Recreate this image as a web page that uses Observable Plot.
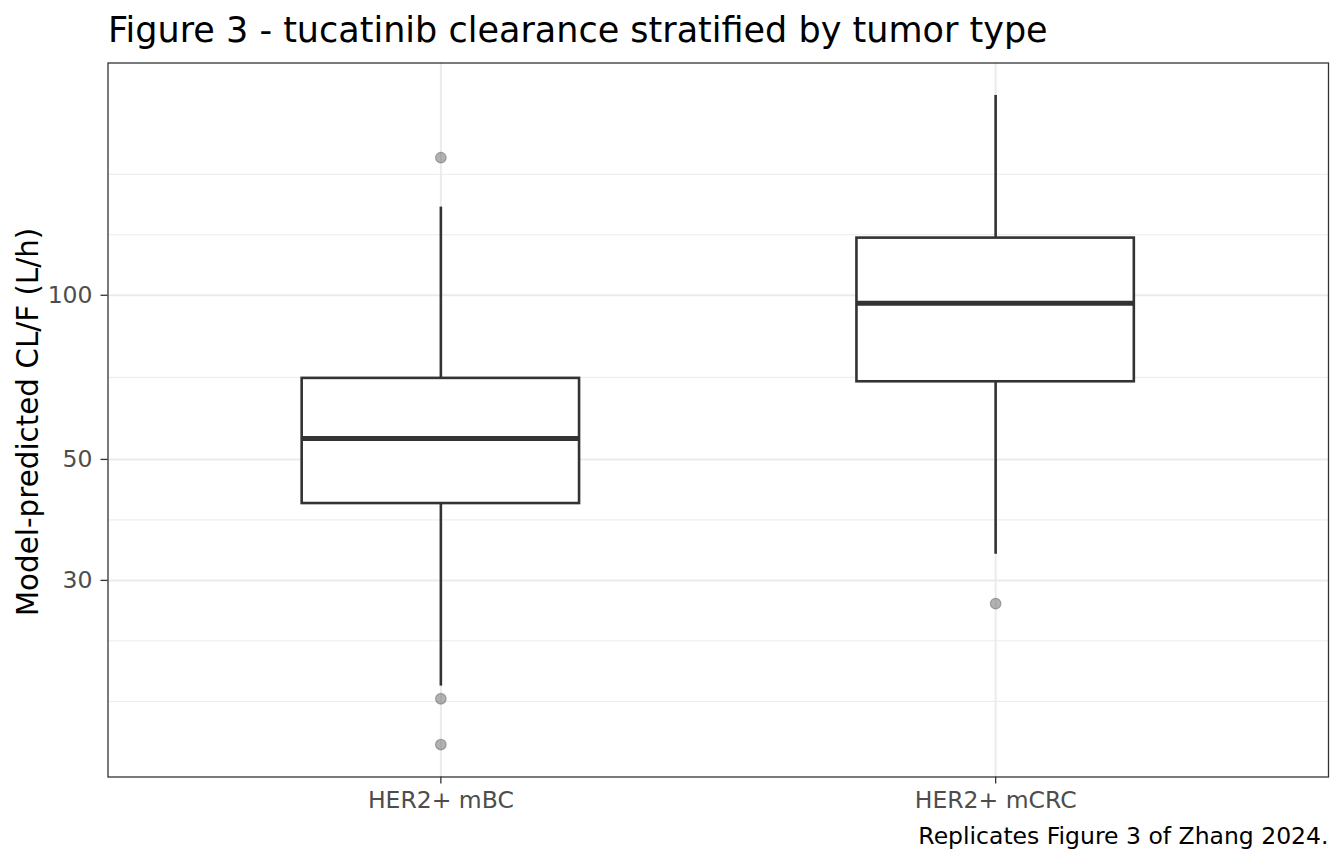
<!DOCTYPE html>
<html>
<head>
<meta charset="utf-8">
<script src="https://cdn.jsdelivr.net/npm/d3@7"></script>
<script src="https://cdn.jsdelivr.net/npm/@observablehq/plot@0.6"></script>
<style>
  html, body { margin: 0; padding: 0; background: #ffffff; }
  #chart { width: 1344px; height: 864px; }
</style>
</head>
<body>
<div id="chart"></div>
<script>
// ---- data ----
const tumorTypes   = ["HER2+ mBC", "HER2+ mCRC"];
const lowerWhisker = [19.2, 33.5];
const q1           = [41.5, 69.4];
const median       = [54.6, 96.7];
const q3           = [70.4, 127.3];
const upperWhisker = [145.1, 232.5];

const outlierType  = ["HER2+ mBC", "HER2+ mBC", "HER2+ mBC", "HER2+ mCRC"];
const outlierValue = [178.8, 18.2, 15.0, 27.2];

const yMajorTicks = [30, 50, 100];
const yMinorTicks = [18, 23.24, 38.73, 70.71, 129.1, 166.67];

const titleText   = "Figure 3 - tucatinib clearance stratified by tumor type";
const yLabelText  = "Model-predicted CL/F (L/h)";
const captionText = "Replicates Figure 3 of Zhang 2024.";

// ---- tables built from the arrays ----
const boxes = tumorTypes.map((t, i) => ({
  type: t, lo: lowerWhisker[i], q1: q1[i], med: median[i], q3: q3[i], hi: upperWhisker[i]
}));
const outliers = outlierType.map((t, i) => ({type: t, value: outlierValue[i]}));

// y domain: data range expanded by 5% in log space (like ggplot)
const allVals = [...lowerWhisker, ...upperWhisker, ...outlierValue];
const lmin = Math.log10(d3.min(allVals)), lmax = Math.log10(d3.max(allVals));
const ex = (lmax - lmin) * 0.05;
const yDomain = [Math.pow(10, lmin - ex), Math.pow(10, lmax + ex)];

const W = 1344, H = 864;
const mL = 107.5, mR = 16, mT = 62.5, mB = 87.5;
const dark = "#333333";

const chart = Plot.plot({
  width: W,
  height: H,
  marginLeft: mL,
  marginRight: mR,
  marginTop: mT,
  marginBottom: mB,
  style: {fontFamily: "DejaVu Sans", fontSize: "23.5px", background: "#ffffff", color: "#000"},
  x: {type: "band", domain: tumorTypes, paddingInner: 0.5, paddingOuter: 0.35, align: 0.5, round: false, label: null},
  y: {type: "log", domain: yDomain, label: null},
  marks: [
    // minor grid
    Plot.gridY(yMinorTicks, {stroke: "#ebebeb", strokeOpacity: 1, strokeWidth: 1}),
    // major grid
    Plot.gridY(yMajorTicks, {stroke: "#ebebeb", strokeOpacity: 1, strokeWidth: 2}),
    Plot.gridX(tumorTypes, {stroke: "#ebebeb", strokeOpacity: 1, strokeWidth: 2}),
    // outliers
    Plot.dot(outliers, {x: "type", y: "value", r: 5.3, fill: "#666666", fillOpacity: 0.5,
      stroke: "#666666", strokeOpacity: 0.5, strokeWidth: 1.2}),
    // whiskers
    Plot.ruleX(boxes, {x: "type", y1: "q3", y2: "hi", stroke: dark, strokeWidth: 2.6}),
    Plot.ruleX(boxes, {x: "type", y1: "lo", y2: "q1", stroke: dark, strokeWidth: 2.6}),
    // boxes
    Plot.barY(boxes, {x: "type", y1: "q1", y2: "q3", fill: "#ffffff", stroke: dark, strokeWidth: 2.6}),
    // medians
    Plot.tickY(boxes, {x: "type", y: "med", stroke: dark, strokeWidth: 5}),
    // panel border
    Plot.frame({stroke: dark, strokeWidth: 1.3}),
    // axes
    Plot.axisY(yMajorTicks, {tickSize: 7, tickPadding: 8.5, stroke: dark, strokeWidth: 1.3,
      fill: "#4d4d4d", fontSize: 23.5, label: null, tickFormat: d => String(d)}),
    Plot.axisX({tickSize: 7, tickPadding: 7.5, stroke: dark, strokeWidth: 1.3,
      fill: "#4d4d4d", fontSize: 23.5, label: null}),
    // axis title
    Plot.text([yLabelText], {text: d => d, frameAnchor: "left", rotate: -90, dx: 28 - mL, dy: 2,
      fontSize: 29.4, fill: "#000000", lineAnchor: "middle", textAnchor: "middle"}),
    // title
    Plot.text([titleText], {text: d => d, frameAnchor: "top-left", dy: 41.5 - mT,
      fontSize: 35, fill: "#000000", lineAnchor: "bottom", textAnchor: "start"}),
    // caption
    Plot.text([captionText], {text: d => d, frameAnchor: "bottom-right", dy: 843 - (H - mB),
      fontSize: 23.5, fill: "#000000", lineAnchor: "bottom", textAnchor: "end"})
  ]
});
document.getElementById("chart").appendChild(chart);
</script>
</body>
</html>
